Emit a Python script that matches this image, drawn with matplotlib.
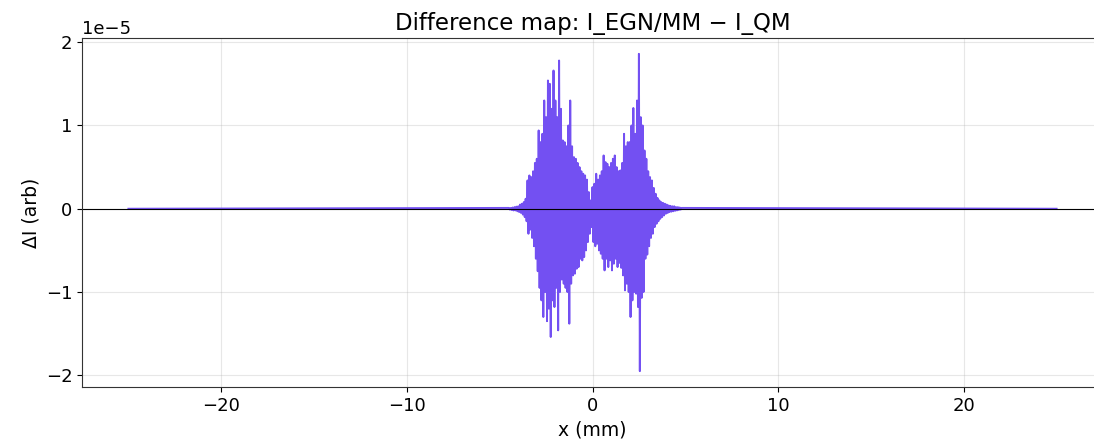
import numpy as np
import matplotlib
matplotlib.use("Agg")
import matplotlib.pyplot as plt
from matplotlib.ticker import MultipleLocator

# Sample grid of the oscillating region (mm) and the read-off difference values (units of 1e-5)
x_start, x_step = -4.5, 0.05
dI_core = [
    # -4.5 .. -4.05
    0.01, -0.01, 0.01, -0.015, 0.015, -0.02, 0.02, -0.02, 0.025, -0.03,
    # -4.0 .. -3.55
    0.03, -0.04, 0.05, -0.05, 0.06, -0.07, 0.08, -0.10, 0.12, -0.15,
    # -3.5 .. -3.05
    0.34, -0.30, 0.40, -0.25, 0.38, -0.35, 0.45, -0.45, 0.55, -0.60,
    # -3.0 .. -2.55
    0.60, -0.75, 0.94, -0.95, 0.80, -1.10, 0.90, -1.30, 1.30, -1.00,
    # -2.5 .. -2.05
    1.10, -1.35, 1.54, -1.20, 1.50, -1.54, 1.20, -1.10, 1.66, -1.18,
    # -2.0 .. -1.55
    1.30, -0.95, 1.10, -1.46, 1.78, -1.00, 1.20, -0.85, 0.82, -0.90,
    # -1.5 .. -1.05
    0.80, -0.95, 0.75, -1.00, 1.00, -1.38, 1.30, -0.90, 0.75, -0.80,
    # -1.0 .. -0.55
    0.62, -0.78, 0.60, -0.72, 0.55, -0.70, 0.50, -0.60, 0.45, -0.62,
    # -0.5 .. -0.05
    0.42, -0.58, 0.40, -0.50, 0.35, -0.40, 0.20, -0.30, 0.10, -0.22,
    # 0.0 .. 0.45
    0.26, -0.40, 0.30, -0.45, 0.42, -0.42, 0.35, -0.50, 0.40, -0.54,
    # 0.5 .. 0.95
    0.45, -0.60, 0.64, -0.74, 0.56, -0.60, 0.54, -0.70, 0.50, -0.62,
    # 1.0 .. 1.45
    0.55, -0.74, 0.60, -0.66, 0.64, -0.60, 0.50, -0.70, 0.45, -0.65,
    # 1.5 .. 1.95
    0.46, -0.71, 0.55, -0.80, 0.90, -0.98, 0.75, -0.90, 0.80, -1.00,
    # 2.0 .. 2.45
    0.80, -1.30, 1.00, -1.10, 1.21, -1.00, 0.90, -1.02, 1.30, -1.18,
    # 2.5 .. 2.95
    1.86, -1.95, 1.10, -1.07, 1.00, -1.00, 0.70, -0.60, 0.60, -0.55,
    # 3.0 .. 3.45
    0.45, -0.45, 0.38, -0.35, 0.34, -0.30, 0.25, -0.22, 0.18, -0.18,
    # 3.5 .. 3.95
    0.13, -0.15, 0.10, -0.12, 0.08, -0.10, 0.07, -0.08, 0.06, -0.06,
    # 4.0 .. 4.45
    0.05, -0.05, 0.04, -0.04, 0.035, -0.035, 0.03, -0.03, 0.03, -0.025,
    # 4.5 .. 4.8
    0.02, -0.02, 0.02, -0.015, 0.015, -0.01, 0.01,
]
x_edges = [-25.0, 25.0]

x_core = x_start + x_step * np.arange(len(dI_core))
x = np.concatenate([[x_edges[0]], x_core, [x_edges[1]]])
y = np.concatenate([[0.0], np.array(dI_core), [0.0]]) * 1e-5

fig = plt.figure(figsize=(10.94, 4.48), dpi=100)
ax = fig.add_axes([82 / 1094, (448 - 387) / 448, 1021 / 1094, 349 / 448])

ax.plot(x, y, color="#7350f2", lw=1.4)
ax.axhline(0, color="black", lw=0.8)
ax.grid(True, color="#b0b0b0", alpha=0.3, lw=0.8)
ax.set_axisbelow(True)
ax.yaxis.set_major_locator(MultipleLocator(1e-5))

ax.set_title("Difference map: I_EGN/MM \u2212 I_QM", fontsize=16.5)
ax.set_xlabel("x (mm)", fontsize=13.5)
ax.set_ylabel("\u0394I (arb)", fontsize=13.5)
ax.tick_params(labelsize=13)
ax.yaxis.get_offset_text().set_fontsize(13)
for s in ax.spines.values():
    s.set_color("#333333")
ax.spines["right"].set_visible(False)

fig.savefig("out.png", dpi=100)
